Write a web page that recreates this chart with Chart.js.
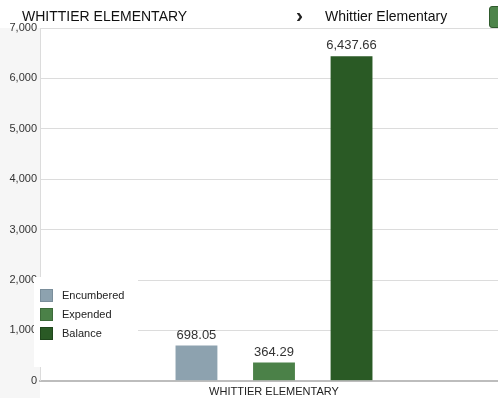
<!DOCTYPE html>
<html>
<head>
<meta charset="utf-8">
<script src="https://cdn.jsdelivr.net/npm/chart.js@4"></script>
<style>
  html, body { margin: 0; padding: 0; background: #fff; overflow: hidden; }
  body { width: 498px; height: 398px; position: relative; font-family: "Liberation Sans", Arial, sans-serif; }
  #wrap { position: absolute; left: 0; top: 0; width: 508px; height: 398px; }
  .hdr { position: absolute; top: 8px; font-size: 14px; color: #111; }
  #btn { position: absolute; left: 489px; top: 6px; width: 20px; height: 20px; border-radius: 3px;
         background: #4d844a; border: 1px solid #2f5a2d; }
</style>
</head>
<body>
<div id="wrap"><canvas id="chart"></canvas></div>
<div class="hdr" style="left:22px">WHITTIER ELEMENTARY</div>
<div class="hdr" style="left:296px; font-size:21px; font-weight:bold; top:3px; color:#222">&#8250;</div>
<div class="hdr" style="left:325px">Whittier Elementary</div>
<div id="btn"></div>
<script>
const categories = ['WHITTIER ELEMENTARY']
const encumbered = [698.05]
const expended = [364.29]
const balance = [6437.66]
const yTicks = [0, 1000, 2000, 3000, 4000, 5000, 6000, 7000]

const font = '"Liberation Sans", Arial, sans-serif'

// fond gris à gauche, zone du graphique en blanc
const background = {
    id: 'background',
    beforeDraw(chart) {
        const ctx = chart.ctx, a = chart.chartArea
        ctx.save()
        ctx.fillStyle = '#f6f6f6'
        ctx.fillRect(0, a.top, a.left, chart.height - a.top)
        ctx.restore()
    }
}

const valueLabels = {
    id: 'valueLabels',
    afterDatasetsDraw(chart) {
        const ctx = chart.ctx
        ctx.save()
        ctx.font = '13px ' + font
        ctx.fillStyle = '#333'
        ctx.textAlign = 'center'
        ctx.textBaseline = 'bottom'
        chart.data.datasets.forEach((ds, i) => {
            chart.getDatasetMeta(i).data.forEach((bar, j) => {
                const v = ds.data[j].toLocaleString('en-US', {minimumFractionDigits: 2, maximumFractionDigits: 2})
                ctx.fillText(v, bar.x, bar.y - 4)
            })
        })
        ctx.restore()
    }
}

// légende posée sur le graphique, en bas à gauche
const overlayLegend = {
    id: 'overlayLegend',
    afterDraw(chart) {
        const ctx = chart.ctx
        ctx.save()
        ctx.fillStyle = '#fff'
        ctx.fillRect(34, 277, 104, 90)
        ctx.font = '11px ' + font
        ctx.textBaseline = 'middle'
        chart.data.datasets.forEach((ds, i) => {
            const y = 289 + i * 19
            ctx.fillStyle = ds.backgroundColor
            ctx.fillRect(40, y, 13, 13)
            ctx.strokeStyle = ds.legendBorder
            ctx.lineWidth = 1
            ctx.strokeRect(40.5, y + 0.5, 12, 12)
            ctx.fillStyle = '#222'
            ctx.fillText(ds.label, 62, y + 7)
        })
        ctx.restore()
    }
}

new Chart(document.getElementById('chart'), {
    type: 'bar',
    data: {
        labels: categories,
        datasets: [
            { label: 'Encumbered', data: encumbered, backgroundColor: '#8da2af', legendBorder: '#7a8e9b' },
            { label: 'Expended', data: expended, backgroundColor: '#4b8148', legendBorder: '#3d6b3a' },
            { label: 'Balance', data: balance, backgroundColor: '#2a5a25', legendBorder: '#1f461b' }
        ]
    },
    options: {
        responsive: true,
        maintainAspectRatio: false,
        animation: false,
        categoryPercentage: 0.497,
        barPercentage: 0.54,
        layout: { padding: { top: 28, right: 0, bottom: -6, left: 0 } },
        plugins: {
            legend: { display: false },
            tooltip: { enabled: false }
        },
        scales: {
            x: {
                grid: { display: false, drawTicks: false },
                border: { color: '#bdbdbd', width: 2 },
                ticks: { color: '#222', font: { family: font, size: 11 }, padding: 5 }
            },
            y: {
                min: 0,
                max: 7000,
                afterBuildTicks: s => { s.ticks = yTicks.map(v => ({ value: v })) },
                afterFit: s => { s.width = 40 },
                grid: { color: '#dcdcdc', drawTicks: false },
                border: { color: '#dcdcdc' },
                ticks: {
                    color: '#333',
                    padding: 3,
                    font: { family: font, size: 11 },
                    callback: v => v.toLocaleString('en-US')
                }
            }
        }
    },
    plugins: [background, valueLabels, overlayLegend]
})
</script>
</body>
</html>
